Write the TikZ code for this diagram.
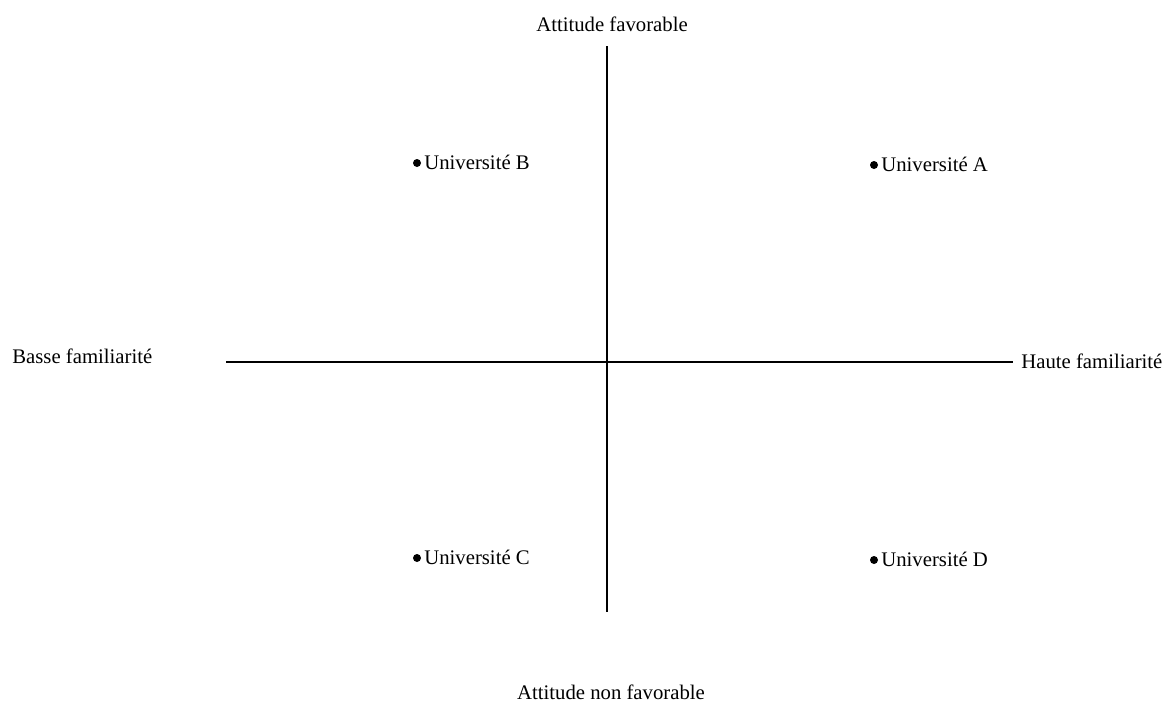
\documentclass[tikz,border=0pt]{standalone}
\usepackage{fontspec}
\setmainfont{Liberation Serif}
\begin{document}
\begin{tikzpicture}[x=0.02cm,y=-0.02cm,
  lab/.style={font=\fontsize{11.8}{13}\selectfont, inner sep=0pt},
  pt/.style={circle, fill=black, inner sep=0pt, minimum size=0.16cm},
  axis/.style={line width=0.9pt}]
\useasboundingbox (0,0) rectangle (1166,701);
\coordinate (top) at (607,46);
\coordinate (bot) at (607,612);
\coordinate (lft) at (226,362);
\coordinate (rgt) at (1013,362);
\draw[axis] (top) -- (bot);
\draw[axis] (lft) -- (rgt);
\node[lab] (tf) at (612,24) {Attitude favorable};
\node[lab] (bf) at (611,692) {Attitude non favorable};
\node[lab, anchor=west] (lf) at (12,356) {Basse familiarité};
\node[lab, anchor=west] (hf) at (1021,361) {Haute familiarité};
\node[pt] (pB) at (417,163) {};
\node[lab, anchor=west] (uB) at (424,162) {Université B};
\node[pt] (pA) at (874,165) {};
\node[lab, anchor=west] (uA) at (881,164) {Université A};
\node[pt] (pC) at (417,558) {};
\node[lab, anchor=west] (uC) at (424,557) {Université C};
\node[pt] (pD) at (874,560) {};
\node[lab, anchor=west] (uD) at (881,559) {Université D};
\end{tikzpicture}
\end{document}
